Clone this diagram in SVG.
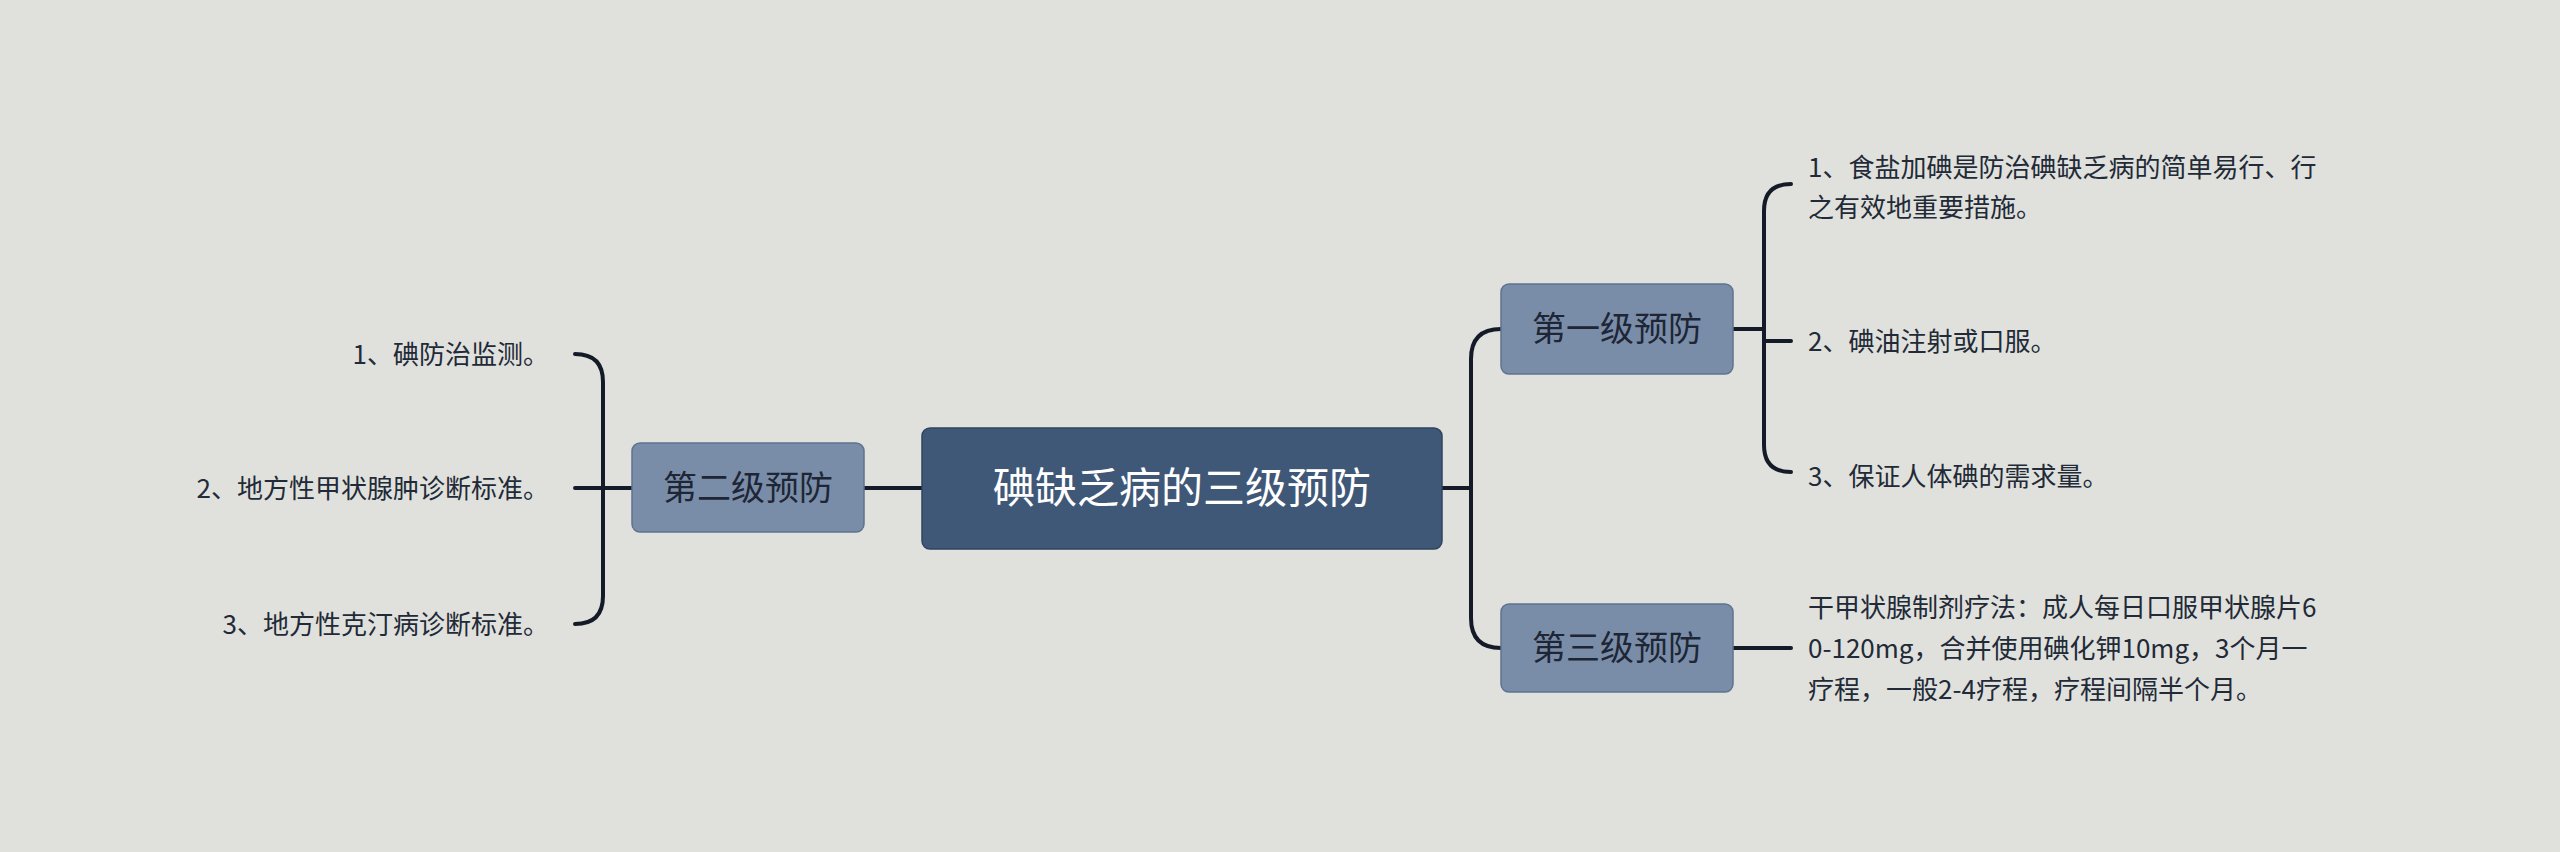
<svg xmlns="http://www.w3.org/2000/svg" width="2560" height="852" viewBox="0 0 2560 852">
<style>
.c{fill:none;stroke:#141a28;stroke-width:4;stroke-linecap:round}
.t{font-family:"Noto Sans CJK SC","Noto Sans",sans-serif}
.sec{fill:#7a8da8;stroke:#5f7390;stroke-width:1.5}
.st{font-size:34px;fill:#1e2636}
.lf{font-size:26px;fill:#222a38}
</style>
<rect width="2560" height="852" fill="#e0e1dc"/>
<g id="connectors">
<path class="c" d="M864 488 H922"/>
<path class="c" d="M632 488 H603 M575 354 Q603 354 603 382 V596 Q603 624 575 624 M603 488 H575"/>
<path class="c" d="M1442 488 H1471 M1501 329 Q1471 329 1471 359 V618 Q1471 648 1501 648"/>
<path class="c" d="M1733 329 H1764 M1791 184 Q1764 184 1764 211 V445 Q1764 472 1791 472 M1764 341 H1791"/>
<path class="c" d="M1733 648 H1791"/>
</g>
<g id="center"><rect x="922" y="428" width="520" height="121" rx="8" fill="#3f5877" stroke="#2e4460" stroke-width="1.5"/>
<text class="t" x="1182" y="503" font-size="42" fill="#fff" text-anchor="middle">碘缺乏病的三级预防</text></g>
<g id="n2"><rect class="sec" x="632" y="443" width="232" height="89" rx="8"/><text class="t st" x="748" y="500" text-anchor="middle">第二级预防</text></g>
<g id="n1"><rect class="sec" x="1501" y="284" width="232" height="90" rx="8"/><text class="t st" x="1617" y="341" text-anchor="middle">第一级预防</text></g>
<g id="n3"><rect class="sec" x="1501" y="604" width="232" height="88" rx="8"/><text class="t st" x="1617" y="660" text-anchor="middle">第三级预防</text></g>
<g id="l1" class="t lf" text-anchor="end"><text x="549" y="364">1、碘防治监测。</text></g>
<g id="l2" class="t lf" text-anchor="end"><text x="549" y="498">2、地方性甲状腺肿诊断标准。</text></g>
<g id="l3" class="t lf" text-anchor="end"><text x="549" y="634">3、地方性克汀病诊断标准。</text></g>
<g id="r1" class="t lf"><text x="1808" y="177">1、食盐加碘是防治碘缺乏病的简单易行、行</text><text x="1808" y="217">之有效地重要措施。</text></g>
<g id="r2" class="t lf"><text x="1808" y="351">2、碘油注射或口服。</text></g>
<g id="r3" class="t lf"><text x="1808" y="486">3、保证人体碘的需求量。</text></g>
<g id="r4" class="t lf"><text x="1808" y="617">干甲状腺制剂疗法：成人每日口服甲状腺片6</text><text x="1808" y="658">0-120mg，合并使用碘化钾10mg，3个月一</text><text x="1808" y="699">疗程，一般2-4疗程，疗程间隔半个月。</text></g>
</svg>
